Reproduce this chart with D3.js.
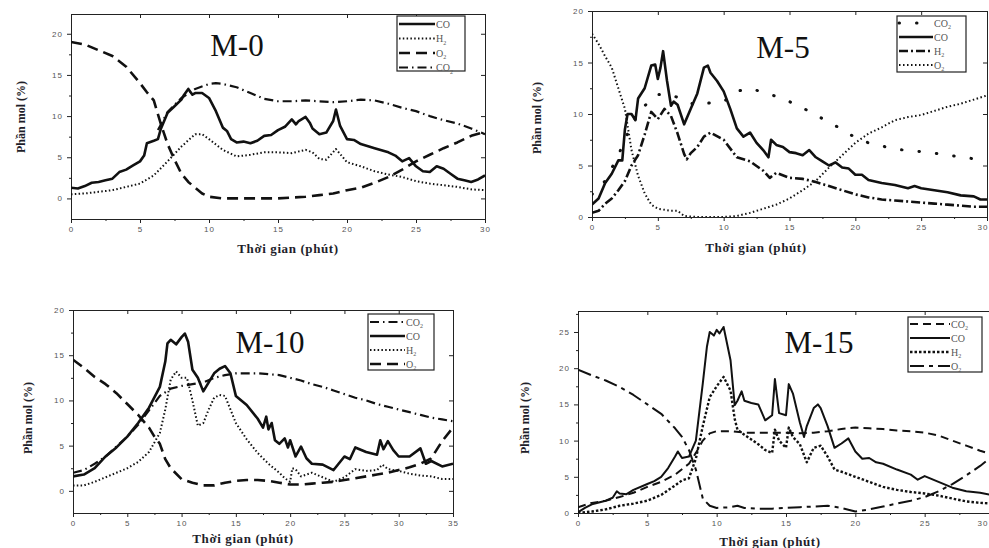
<!DOCTYPE html>
<html>
<head>
<meta charset="utf-8">
<script src="https://cdn.jsdelivr.net/npm/d3@7"></script>
<style>
  body { margin: 0; background: #fff; }
  .tick text { font-family: Arial, "Liberation Sans", sans-serif; font-size: 8px; fill: #555; letter-spacing: 1px; }
  .axis path, .axis line { stroke: #222; }
</style>
</head>
<body>
<svg id="chart" width="989" height="548"></svg>
<script>
// ---- data: [time (phut), mole fraction (%)] ----
var m0_CO = [[0,1.3],[0.5,1.2],[1,1.5],[1.5,1.9],[2,2.0],[2.5,2.2],[3,2.4],[3.5,3.2],[4,3.5],[4.5,4.0],[5,4.5],[5.3,5.2],[5.5,6.7],[6,7.0],[6.3,7.2],[6.5,8.4],[7,10.4],[7.5,11.2],[8,12.0],[8.2,12.6],[8.5,13.3],[8.8,12.6],[9,12.8],[9.5,12.8],[10,12.2],[10.5,10.6],[11,8.6],[11.3,8.2],[11.6,7.2],[12,6.8],[12.5,6.9],[13,6.7],[13.5,7.0],[14,7.6],[14.5,7.7],[15,8.3],[15.5,8.7],[16,9.6],[16.3,9.0],[16.5,9.4],[17,9.9],[17.3,9.2],[17.5,8.5],[18,7.8],[18.5,8.0],[19,9.4],[19.2,10.8],[19.5,8.8],[20,7.2],[20.5,7.1],[21,6.6],[22,6.1],[23,5.6],[23.5,5.2],[24,4.5],[24.5,4.9],[25,3.9],[25.5,3.3],[26,3.2],[26.5,3.9],[27,3.6],[27.5,3.0],[28,2.4],[28.5,2.2],[29,2.0],[29.5,2.3],[30,2.8]];
var m0_H2 = [[0,0.5],[1,0.6],[2,0.8],[3,1.0],[4,1.4],[5,1.8],[6,2.8],[7,4.5],[8,6.3],[9,7.8],[9.5,7.8],[10,7.2],[11,5.9],[12,5.1],[13,5.3],[14,5.6],[15,5.6],[16,5.5],[17,5.9],[17.5,5.6],[18,4.8],[18.5,4.7],[19.2,6.0],[20,4.4],[21,3.9],[22,3.3],[23,2.9],[24,2.6],[25,2.1],[26,1.8],[27,1.6],[28,1.4],[29,1.1],[30,1.0]];
var m0_O2 = [[0,19.0],[1,18.7],[2,18.0],[3,17.3],[4,16.0],[5,14.0],[5.5,12.9],[6,11.9],[6.5,9.1],[7,6.6],[7.5,4.7],[8,3.0],[8.5,2.0],[9,1.3],[9.5,0.6],[10,0.2],[11,0],[12,0],[13,0],[14,0],[15,0],[16,0.1],[17,0.2],[18,0.4],[19,0.6],[20,1.0],[21,1.3],[22,1.9],[23,2.6],[24,3.5],[25,4.5],[26,5.3],[27,6.1],[28,6.8],[29,7.6],[30,8.1]];
var m0_CO2 = [[6.3,8.3],[7,10.5],[8,12.2],[9,13.3],[10,13.9],[10.5,14.0],[11,13.9],[12,13.5],[13,12.8],[14,12.1],[15,11.8],[16,11.8],[17,11.9],[18,11.8],[19,11.7],[20,11.8],[21,12.0],[22,11.9],[23,11.5],[24,11.0],[25,10.6],[26,10.0],[27,9.5],[28,9.1],[29,8.5],[30,7.8]];

var m5_CO2 = [[0,2.2],[1,3.5],[2,6.0],[3,9.0],[4,10.8],[5,11.9],[6,11.9],[7,11.3],[8,10.8],[9,11.1],[10,11.2],[11,12.2],[12,12.5],[13,12.1],[14,11.7],[15,11.2],[16,10.6],[17,9.9],[18,9.2],[19,8.5],[20,7.7],[21,7.2],[22,6.9],[23,6.6],[24,6.45],[25,6.35],[26,6.2],[27,6.0],[28,5.85],[29,5.65],[30,5.5]];
var m5_CO = [[0,1.2],[0.5,1.8],[1,3.3],[1.5,4.2],[2,5.5],[2.3,5.5],[2.5,8.5],[2.7,10.0],[3,10.0],[3.3,9.4],[3.5,11.5],[4,12.5],[4.5,14.7],[4.8,14.8],[5,13.4],[5.2,14.5],[5.4,16.1],[5.7,13.2],[6,10.8],[6.2,11.2],[6.5,10.9],[7,9.0],[7.5,10.5],[8,12.0],[8.5,14.5],[8.8,14.7],[9,14.0],[9.5,13.2],[10,12.2],[10.5,10.5],[11,8.6],[11.5,7.8],[12,8.2],[12.5,7.2],[13,6.5],[13.4,5.8],[13.6,7.5],[14,7.0],[14.5,6.8],[15,6.3],[15.5,6.2],[16,6.0],[16.5,6.5],[17,5.8],[17.5,5.4],[18,5.0],[18.5,5.3],[19,4.8],[19.5,4.7],[20,4.1],[20.5,4.1],[21,3.6],[22,3.3],[23,3.1],[24,2.8],[24.5,3.0],[25,2.8],[26,2.6],[27,2.4],[28,2.1],[29,2.0],[29.5,1.7],[30,1.7]];
var m5_H2 = [[0,0.4],[0.5,0.6],[1,1.3],[1.5,1.8],[2,2.6],[2.5,3.5],[3,5.0],[3.5,6.0],[4,8.0],[4.5,10.2],[5,9.5],[5.5,10.5],[6,9.8],[6.5,8.1],[7,6.1],[7.2,5.6],[7.5,6.2],[8,6.8],[8.5,7.8],[9,8.2],[10,7.5],[11,5.8],[12,5.4],[13,4.5],[13.5,3.8],[14,4.3],[15,3.8],[16,3.7],[17,3.4],[18,3.0],[19,2.6],[20,2.2],[21,1.9],[22,1.7],[23,1.6],[24,1.5],[25,1.4],[26,1.3],[27,1.2],[28,1.1],[29,1.0],[30,1.0]];
var m5_O2 = [[0,17.8],[0.5,16.8],[1,15.6],[1.5,14.5],[2,12.5],[2.5,10.5],[3,6.5],[3.5,4.0],[4,2.3],[4.5,1.2],[5,0.8],[6,0.6],[6.5,0.6],[7,0.1],[8,0],[9,0],[10,0],[11,0.1],[12,0.4],[13,0.8],[14,1.2],[15,1.8],[16,2.6],[17,3.5],[18,4.8],[19,6.0],[20,7.2],[21,8.1],[22,8.7],[23,9.4],[24,9.7],[25,9.9],[26,10.3],[27,10.7],[28,11.0],[29,11.4],[30,11.8]];

var m10_CO2 = [[0,2.0],[1,2.3],[2,3.0],[3,3.8],[4,4.9],[5,6.0],[6,7.3],[7,8.9],[8,10.5],[9,11.3],[10,11.6],[11,11.8],[12,12.0],[13,12.5],[14,12.8],[15,13.0],[16,13.0],[17,13.0],[18,12.9],[19,12.8],[20,12.5],[21,12.2],[22,11.8],[23,11.5],[24,11.1],[25,10.7],[26,10.3],[27,10.0],[28,9.6],[29,9.3],[30,9.0],[31,8.7],[32,8.4],[33,8.1],[34,7.9],[35,7.7]];
var m10_CO = [[0,1.6],[1,1.8],[2,2.5],[3,3.8],[4,4.8],[5,6.0],[6,7.5],[7,9.2],[8,11.5],[8.5,14.3],[8.7,16.3],[9,16.7],[9.5,16.2],[10,17.0],[10.3,17.4],[10.6,16.5],[11,13.4],[11.5,12.5],[12,11.0],[12.5,12.0],[13,13.0],[13.5,13.5],[14,13.8],[14.5,13.0],[15,10.5],[16,9.5],[17,8.0],[17.5,7.0],[17.8,8.2],[18,6.8],[18.3,7.5],[18.6,5.6],[19,5.2],[19.5,5.8],[19.8,4.8],[20,5.6],[20.5,3.8],[21,4.9],[21.5,3.6],[22,3.0],[23,2.9],[24,2.3],[25,3.8],[25.5,3.5],[26,4.8],[27,4.3],[28,4.0],[28.3,5.6],[28.6,4.6],[29,5.5],[29.5,4.5],[30,3.8],[31,3.8],[32,4.7],[32.5,3.0],[33,3.3],[34,2.7],[35,3.0]];
var m10_H2 = [[0,0.6],[1,0.6],[2,1.0],[3,1.5],[4,2.0],[5,2.5],[6,3.2],[7,4.3],[8,6.4],[8.5,9.0],[9,12.3],[9.5,13.2],[10,12.5],[10.5,12.5],[11,10.0],[11.5,7.2],[12,7.5],[12.5,9.0],[13,10.3],[13.5,10.6],[14,10.5],[14.5,9.0],[15,7.5],[16,5.7],[17,4.2],[18,3.0],[19,2.0],[19.5,1.4],[20,1.0],[20.2,2.5],[20.5,2.4],[21,1.6],[22,2.0],[23,1.5],[24,1.0],[25,1.5],[26,2.4],[27,2.2],[28,2.3],[28.5,2.9],[29,2.4],[30,2.2],[31,1.9],[32,1.7],[33,1.6],[34,1.3],[35,1.3]];
var m10_O2 = [[0,14.5],[1,13.6],[2,12.6],[3,11.8],[4,10.8],[5,9.6],[6,8.4],[7,7.0],[7.5,6.0],[8,5.2],[8.5,3.5],[9,2.5],[10,1.3],[11,0.9],[12,0.6],[13,0.6],[14,0.9],[15,1.1],[16,1.2],[17,1.2],[18,1.1],[19,0.9],[20,0.7],[21,0.7],[22,0.8],[23,0.9],[24,1.0],[25,1.2],[26,1.4],[27,1.6],[28,1.8],[29,2.0],[30,2.3],[31,2.6],[32,3.0],[33,3.6],[34,5.5],[35,7.0]];

var m15_CO2 = [[0,0.8],[1,1.4],[2,1.7],[3,2.2],[4,2.8],[5,3.6],[6,4.3],[7,5.3],[8,6.8],[8.5,8.3],[9,10.0],[9.5,11.0],[10,11.3],[11,11.3],[12,11.1],[13,11.1],[14,11.1],[15,11.1],[16,11.0],[17,11.1],[18,11.3],[19,11.6],[20,11.8],[21,11.7],[22,11.6],[23,11.4],[24,11.3],[25,11.1],[26,10.7],[27,10.0],[28,9.3],[29,8.6],[30,8.0]];
var m15_CO = [[0,0.1],[0.5,0.7],[1,1.2],[2,1.7],[2.5,2.1],[2.8,3.0],[3,2.7],[3.5,2.6],[4,3.2],[5,4.0],[5.5,4.4],[6,5.0],[6.5,6.2],[7,7.8],[7.2,8.5],[7.5,7.6],[8,7.8],[8.5,10.0],[9,17.9],[9.3,23.0],[9.5,25.0],[9.8,24.5],[10,25.3],[10.2,24.8],[10.5,25.7],[11,21.1],[11.3,14.9],[11.5,15.5],[11.8,16.8],[12,15.5],[12.5,15.2],[13,15.0],[13.5,12.8],[14,13.5],[14.2,18.5],[14.5,13.8],[15,13.5],[15.2,17.8],[15.5,16.5],[16,12.5],[16.3,10.5],[16.5,12.0],[17,14.5],[17.3,15.0],[17.5,14.5],[18,12.0],[18.5,9.0],[19,9.6],[19.5,10.3],[20,8.5],[20.5,7.5],[21,7.6],[21.5,7.0],[22,6.8],[23,6.0],[24,5.3],[24.5,4.6],[25,5.1],[26,4.3],[27,3.5],[28,3.0],[29,2.8],[30,2.4]];
var m15_H2 = [[0,0],[1,0.2],[2,0.5],[3,1.0],[4,1.3],[5,1.7],[6,2.5],[7,3.8],[7.5,4.5],[8,4.8],[8.5,7.5],[9,12.0],[9.5,16.0],[10,17.5],[10.5,18.8],[11,16.9],[11.3,13.0],[11.5,11.5],[12,10.8],[13,9.5],[13.5,8.7],[14,8.3],[14.2,11.5],[14.5,10.0],[15,9.0],[15.2,11.8],[15.5,10.5],[16,9.5],[16.5,7.0],[17,9.0],[17.5,9.3],[18,7.8],[18.5,6.0],[19,5.7],[20,5.0],[21,4.3],[22,3.6],[23,3.2],[24,2.9],[25,2.7],[26,2.4],[27,2.0],[28,1.6],[29,1.4],[30,1.3]];
var m15_O2 = [[0,19.8],[1,19.0],[2,18.3],[3,17.4],[4,16.3],[5,15.0],[6,13.7],[7,11.7],[7.5,10.5],[8,8.7],[8.5,6.0],[9,2.0],[9.5,1.0],[10,0.7],[11,0.8],[11.5,1.0],[12,0.7],[13,0.6],[14,0.6],[15,0.7],[16,0.8],[17,0.9],[18,1.0],[19,0.7],[20,0.2],[21,0.5],[22,0.9],[23,1.3],[24,1.7],[25,2.2],[26,3.0],[27,4.0],[28,5.2],[29,6.5],[30,8.0]];

var yTicks20 = [0, 5, 10, 15, 20];
var yTicks25 = [0, 5, 10, 15, 20, 25];

// ---- line styles ----
var ST = {
  solid:    {w: 2.6, dash: null},
  solidThin:{w: 2.0, dash: null},
  dot:      {w: 2.0, dash: "1.5,2.3"},
  longDash: {w: 2.6, dash: "11,6"},
  dashDot:  {w: 2.2, dash: "9,4,1.5,4"},
  bigDots:  {w: 3.0, dash: "0.5,17", cap: "round"},
  dashDot2: {w: 2.6, dash: "9,3,2,3"},
  dot2:     {w: 2.0, dash: "1.5,2.5"},
  dash:     {w: 2.0, dash: "8,5"},
  sqDot:    {w: 2.4, dash: "2.5,2"},
  dashDot3: {w: 2.0, dash: "14,5,4,5"}
};

var panels = [
  {id: "m0", title: "M-0", left: 71, right: 485, top: 14, bottom: 219, xMax: 30, yDom: [-2.5, 22.4], yTicks: yTicks20,
   titleX: 237, titleY: 56, xLab: [288, 253], yLab: [21, 117],
   legend: {x: 397, y: 16, w: 68, h: 55, rows: [24, 38.5, 53, 67.5], lx2: 435},
   series: [["CO", m0_CO, ST.solid], ["H", m0_H2, ST.dot, "2"], ["O", m0_O2, ST.longDash, "2"], ["CO", m0_CO2, ST.dashDot, "2"]]},
  {id: "m5", title: "M-5", left: 592, right: 987, top: 11, bottom: 217, xMax: 30, yDom: [0, 20], yTicks: yTicks20,
   titleX: 783, titleY: 58, xLab: [756, 252], yLab: [537, 118],
   legend: {x: 897, y: 16, w: 69, h: 56, rows: [23, 37, 51, 65], lx2: 933},
   series: [["CO", m5_CO2, ST.bigDots, "2"], ["CO", m5_CO, ST.solid], ["H", m5_H2, ST.dashDot2, "2"], ["O", m5_O2, ST.dot2, "2"]]},
  {id: "m10", title: "M-10", left: 73, right: 453, top: 310, bottom: 513, xMax: 35, yDom: [-2.45, 20], yTicks: yTicks20,
   titleX: 270, titleY: 353, xLab: [243, 543], yLab: [28, 418],
   legend: {x: 368, y: 314, w: 66, h: 56, rows: [322, 336, 350, 364], lx2: 405},
   series: [["CO", m10_CO2, ST.dashDot, "2"], ["CO", m10_CO, ST.solid], ["H", m10_H2, ST.dot, "2"], ["O", m10_O2, ST.longDash, "2"]]},
  {id: "m15", title: "M-15", left: 578, right: 994, top: 311, bottom: 513, xMax: 30, yDom: [0, 27.9], yTicks: yTicks25,
   titleX: 819, titleY: 353, xLab: [770, 546], yLab: [525, 418],
   legend: {x: 908, y: 317, w: 74, h: 55, rows: [324, 338, 352, 366], lx2: 950},
   series: [["CO", m15_CO2, ST.dash, "2"], ["CO", m15_CO, ST.solidThin], ["H", m15_H2, ST.sqDot, "2"], ["O", m15_O2, ST.dashDot3, "2"]]}
];

var W = 989;
var svg = d3.select("#chart");

function styleLine(sel, s) {
  sel.attr("fill", "none").attr("stroke", "#111")
    .attr("stroke-width", s.w)
    .attr("stroke-dasharray", s.dash)
    .attr("stroke-linecap", s.cap || "butt")
    .attr("stroke-linejoin", "round");
}

function drawPanel(p) {
  var g = svg.append("g").attr("class", "panel " + p.id);
  var x = d3.scaleLinear().domain([0, p.xMax]).range([p.left, p.right]);
  var y = d3.scaleLinear().domain(p.yDom).range([p.bottom, p.top]);
  var xt = d3.range(0, p.xMax + 1, 5);
  var xMinor = d3.range(2.5, p.xMax, 5);
  var yMinor = p.yTicks.map(function(v) { return v + 2.5; }).filter(function(v) { return v < p.yDom[1]; });

  g.append("clipPath").attr("id", "clip-" + p.id).append("rect")
    .attr("x", p.left).attr("y", p.top).attr("width", p.right - p.left).attr("height", p.bottom - p.top);

  // bottom + left axes, ticks outward
  var xa = g.append("g").attr("class", "axis")
    .attr("transform", "translate(0," + p.bottom + ")")
    .call(d3.axisBottom(x).tickValues(xt).tickSize(4).tickSizeOuter(0).tickPadding(3).tickFormat(d3.format("d")));
  // keep the last label inside the page when the axis runs to the edge
  xa.selectAll(".tick text").filter(function(d) { return x(d) + 6 > W; })
    .attr("text-anchor", "end").attr("x", function(d) { return W - 1 - x(d); });
  g.append("g").attr("class", "axis")
    .attr("transform", "translate(" + p.left + ",0)")
    .call(d3.axisLeft(y).tickValues(p.yTicks).tickSize(4).tickSizeOuter(0).tickPadding(4).tickFormat(d3.format("d")));
  // minor ticks
  g.append("g").attr("class", "axis").attr("transform", "translate(0," + p.bottom + ")")
    .call(d3.axisBottom(x).tickValues(xMinor).tickSize(2).tickSizeOuter(0).tickFormat(""));
  g.append("g").attr("class", "axis").attr("transform", "translate(" + p.left + ",0)")
    .call(d3.axisLeft(y).tickValues(yMinor).tickSize(2).tickSizeOuter(0).tickFormat(""));
  // top + right, ticks inward
  g.append("g").attr("class", "axis").attr("transform", "translate(0," + p.top + ")")
    .call(d3.axisTop(x).tickValues(xt).tickSize(-4).tickSizeOuter(0).tickFormat(""));
  g.append("g").attr("class", "axis").attr("transform", "translate(" + p.right + ",0)")
    .call(d3.axisRight(y).tickValues(p.yTicks).tickSize(-4).tickSizeOuter(0).tickFormat(""));
  g.selectAll(".axis .domain").attr("stroke-width", 1);

  var line = d3.line()
    .x(function(d) { return x(d[0]); })
    .y(function(d) { return y(d[1]); });

  var lines = g.append("g").attr("clip-path", "url(#clip-" + p.id + ")");
  p.series.forEach(function(s) {
    lines.append("path").datum(s[1]).attr("d", line).call(styleLine, s[2]);
  });

  // title
  g.append("text").attr("x", p.titleX).attr("y", p.titleY)
    .attr("text-anchor", "middle")
    .style("font-family", "'Liberation Serif', 'Times New Roman', serif")
    .style("font-size", "31px").attr("fill", "#111")
    .text(p.title);

  // axis titles
  g.append("text").attr("x", p.xLab[0]).attr("y", p.xLab[1])
    .attr("text-anchor", "middle")
    .style("font-family", "'Liberation Serif', serif").style("font-weight", "bold")
    .style("font-size", "13px").style("letter-spacing", "0.6px").attr("fill", "#1e1e2a")
    .text("Thời gian (phút)");
  g.append("text")
    .attr("transform", "translate(" + p.yLab[0] + "," + p.yLab[1] + ") rotate(-90)")
    .attr("text-anchor", "middle").attr("dy", "0.35em")
    .style("font-family", "'Liberation Serif', serif").style("font-weight", "bold")
    .style("font-size", "12px").attr("fill", "#1e1e2a")
    .text("Phần mol (%)");

  // legend
  var L = p.legend;
  var lg = g.append("g");
  lg.append("rect").attr("x", L.x).attr("y", L.y).attr("width", L.w).attr("height", L.h)
    .attr("fill", "#fff").attr("stroke", "#222").attr("stroke-width", 1.2);
  p.series.forEach(function(s, i) {
    var ry = L.rows[i];
    lg.append("line").attr("x1", L.x + 2).attr("x2", L.lx2).attr("y1", ry).attr("y2", ry)
      .call(styleLine, s[2]);
    var t = lg.append("text").attr("x", L.lx2 + 1).attr("y", ry + 3.5)
      .style("font-family", "'Liberation Serif', serif").style("font-size", "10px")
      .attr("fill", "#555");
    t.append("tspan").text(s[0]);
    if (s[3]) t.append("tspan").attr("dy", 2.5).style("font-size", "6px").text(s[3]);
  });
}

panels.forEach(drawPanel);
</script>
</body>
</html>
